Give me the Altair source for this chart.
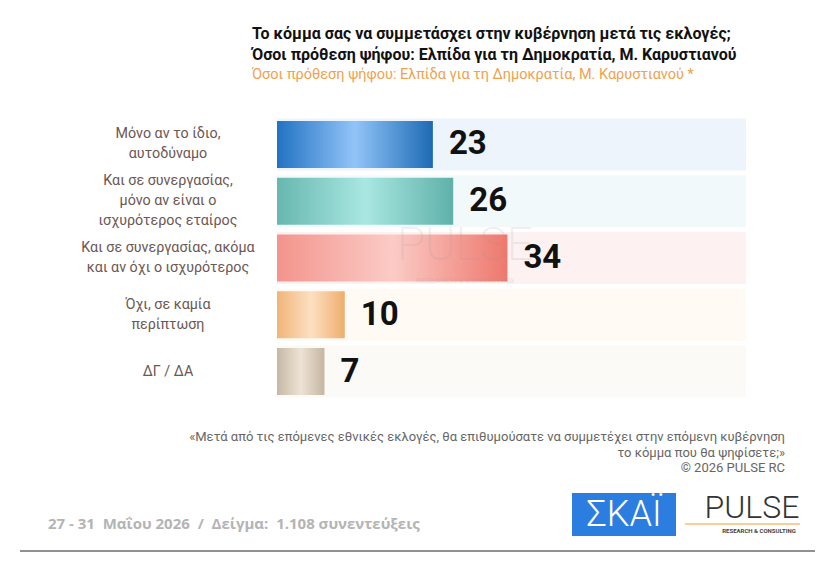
import altair as alt
import pandas as pd

# ---------------- data ----------------
CATEGORIES = [
    "Μόνο αν το ίδιο, αυτοδύναμο",
    "Και σε συνεργασίας, μόνο αν είναι ο ισχυρότερος εταίρος",
    "Και σε συνεργασίας, ακόμα και αν όχι ο ισχυρότερος",
    "Όχι, σε καμία περίπτωση",
    "ΔΓ / ΔΑ",
]
LABELS = [
    "Μόνο αν το ίδιο,\nαυτοδύναμο",
    "Και σε συνεργασίας,\nμόνο αν είναι ο\nισχυρότερος εταίρος",
    "Και σε συνεργασίας, ακόμα\nκαι αν όχι ο ισχυρότερος",
    "Όχι, σε καμία\nπερίπτωση",
    "ΔΓ / ΔΑ",
]
VALUES = [23, 26, 34, 10, 7]

TITLE_LINES = [
    "Το κόμμα σας να συμμετάσχει στην κυβέρνηση μετά τις εκλογές;",
    "Όσοι πρόθεση ψήφου: Ελπίδα για τη Δημοκρατία, Μ. Καρυστιανού",
]
SUBTITLE = "Όσοι πρόθεση ψήφου: Ελπίδα για τη Δημοκρατία, Μ. Καρυστιανού *"
QUESTION_LINES = [
    "«Μετά από τις επόμενες εθνικές εκλογές, θα επιθυμούσατε να συμμετέχει στην επόμενη κυβέρνηση",
    "το κόμμα που θα ψηφίσετε;»",
    "©  2026  PULSE RC",
]
FOOTER_NOTE = "27 - 31\u00a0 Μαΐου 2026\u00a0 /\u00a0 Δείγμα:\u00a0 1.108 συνεντεύξεις"
LOGO_1 = "ΣΚΑΪ"
LOGO_2 = "PULSE"
LOGO_2_SUB = "RESEARCH & CONSULTING"

# ---------------- styles ----------------
BAR_GRADIENTS = [
    ["#2272c2", "#92c4f8", "#1d6ab4"],
    ["#67b7af", "#a9e7e2", "#5fb1a9"],
    ["#f3948d", "#fbcbc6", "#ee786d"],
    ["#f0b478", "#fde0c2", "#eeae6d"],
    ["#c6b8a5", "#ede3d5", "#c4b6a2"],
]
BG_COLORS = ["#edf4fc", "#f2f9fb", "#fdf1f1", "#fffaf4", "#fcfaf7"]
X_MAX = 69.2
W, H = 469, 284
LABEL_LH = 20
HALF_STEP = H / len(CATEGORIES) / 2

df = pd.DataFrame({"cat": CATEGORIES, "label": LABELS, "value": VALUES})

y_enc = alt.Y("cat:N", sort=CATEGORIES, axis=None,
              scale=alt.Scale(paddingInner=0, paddingOuter=0))
x_scale = alt.Scale(domain=[0, X_MAX])

base = alt.Chart(df)

bg = base.mark_bar(height=52).encode(
    y=y_enc,
    x=alt.value(0),
    x2=alt.value(W),
    color=alt.Color("cat:N", scale=alt.Scale(domain=CATEGORIES, range=BG_COLORS), legend=None),
)

bar_layers = []
for cat, stops in zip(CATEGORIES, BAR_GRADIENTS):
    grad = alt.LinearGradient(
        gradient="linear",
        stops=[
            alt.GradientStop(color=stops[0], offset=0),
            alt.GradientStop(color=stops[1], offset=0.5),
            alt.GradientStop(color=stops[2], offset=1),
        ],
        x1=0, x2=1, y1=0, y2=0,
    )
    bar_layers.append(
        base.transform_filter(alt.datum.cat == cat)
        .mark_bar(height=47, color=grad)
        .encode(y=y_enc, x=alt.X("value:Q", scale=x_scale, axis=None))
    )

values_txt = base.mark_text(
    align="left", baseline="middle", dx=16, font="Roboto", fontSize=33,
    fontWeight="bold", color="#111111",
).encode(y=y_enc, x=alt.X("value:Q", scale=x_scale, axis=None), text="value:Q")

cat_txt = base.transform_calculate(
    off=f"{HALF_STEP} - (length(split(datum.label, '\\n')) - 1) * {LABEL_LH / 2}"
).mark_text(
    align="center", baseline="middle", font="Roboto", fontSize=14.3,
    color="#6b5754", lineBreak="\n", lineHeight=LABEL_LH,
).encode(
    y=y_enc,
    yOffset=alt.YOffset("off:Q", scale=None),
    x=alt.value(-109),
    text="label:N",
)


def note(text, x, y, **kw):
    return alt.Chart(pd.DataFrame({"t": [text]})).mark_text(**kw).encode(
        x=alt.value(x), y=alt.value(y), text="t:N")


layers = [bg] + bar_layers + [values_txt, cat_txt]

# watermark
layers.append(note(LOGO_2, 188, 130, font="Roboto", fontSize=46, fontWeight=200,
                   color="#999999", opacity=0.15, align="center", baseline="middle"))
layers.append(note(LOGO_2_SUB, 188, 165, font="Roboto", fontSize=8, fontWeight="bold",
                   color="#999999", opacity=0.15, align="center", baseline="middle"))

# titles
layers.append(note(TITLE_LINES[0], -25, -82, font="Roboto", fontSize=16, fontWeight="bold",
                   color="#111111", align="left", baseline="middle"))
layers.append(note(TITLE_LINES[1], -25, -61, font="Roboto", fontSize=16, fontWeight="bold",
                   color="#111111", align="left", baseline="middle"))
layers.append(note(SUBTITLE, -25, -41, font="Roboto", fontSize=14.5,
                   color="#f0a24e", align="left", baseline="middle"))

# question / copyright
for i, line in enumerate(QUESTION_LINES):
    layers.append(note(line, 508, 321 + 15.5 * i, font="Roboto", fontSize=13,
                       color="#666666", align="right", baseline="middle"))

# footer
layers.append(note(FOOTER_NOTE, -229, 408, font="Open Sans", fontSize=15, fontWeight="bold",
                   color="#b4b4b4", align="left", baseline="middle"))

# logos
layers.append(alt.Chart(pd.DataFrame({"t": [LOGO_1]})).mark_rect(color="#2b7de0").encode(
    x=alt.value(295), x2=alt.value(399), y=alt.value(377), y2=alt.value(420)))
layers.append(note(LOGO_1, 347, 399, font="Roboto", fontSize=36, fontWeight=300,
                   color="#ffffff", align="center", baseline="middle"))
layers.append(note(LOGO_2, 475, 392, font="Roboto", fontSize=32, fontWeight=300,
                   color="#333333", align="center", baseline="middle"))
layers.append(alt.Chart(pd.DataFrame({"t": [LOGO_2]})).mark_rule(color="#f0a030", strokeWidth=1).encode(
    x=alt.value(408), x2=alt.value(523), y=alt.value(408)))
layers.append(note(LOGO_2_SUB, 482, 415, font="Roboto", fontSize=6, fontWeight="bold",
                   color="#444444", align="center", baseline="middle"))

# bottom rule
layers.append(alt.Chart(pd.DataFrame({"t": [""]})).mark_rule(color="#222222", strokeWidth=1).encode(
    x=alt.value(-257), x2=alt.value(538), y=alt.value(435)))

chart = alt.layer(*layers).properties(
    width=W, height=H,
    autosize=alt.AutoSizeParams(type="none"),
    padding={"left": 277, "top": 116, "right": 94, "bottom": 164},
    background="#ffffff",
).configure_view(stroke=None)

chart.save("out.html", embed_options={"renderer": "svg", "actions": False})
